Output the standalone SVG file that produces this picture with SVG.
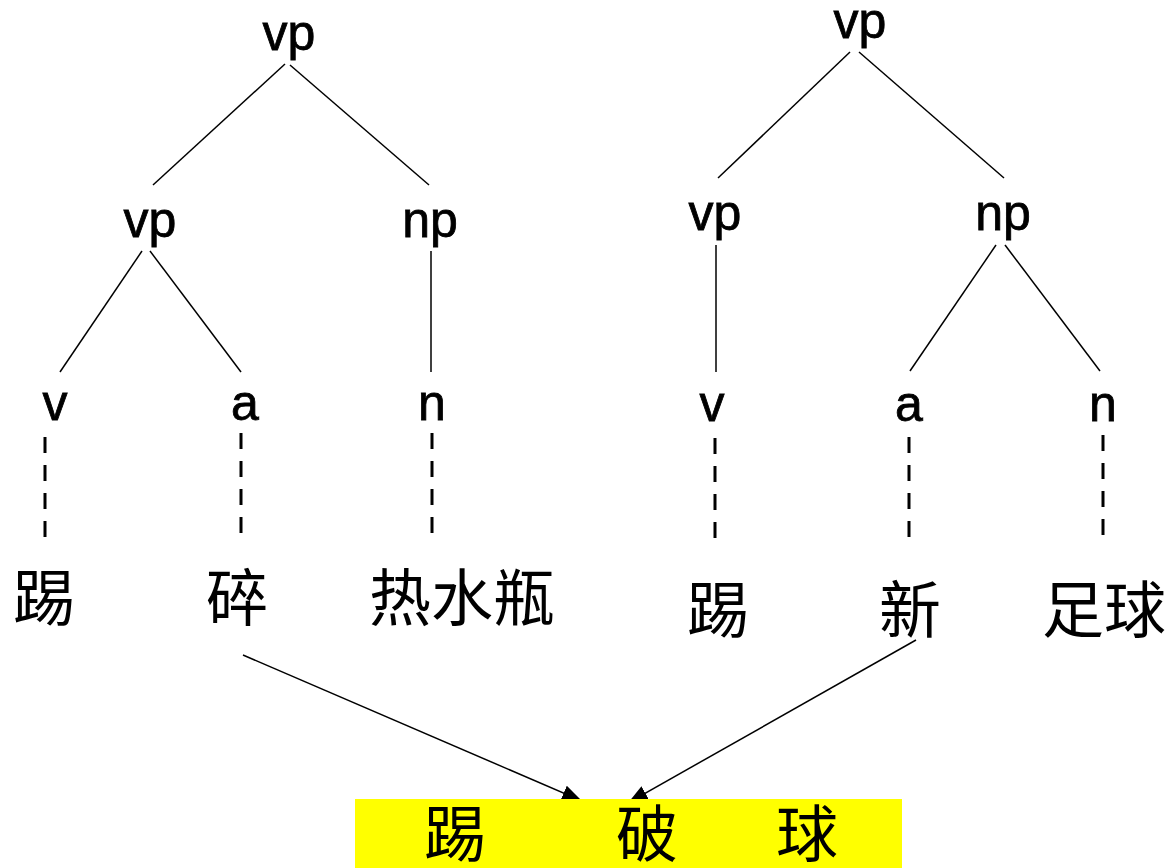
<svg xmlns="http://www.w3.org/2000/svg" width="1171" height="868" viewBox="0 0 1171 868">
<style>
.lbl{font-family:"Liberation Sans","DejaVu Sans",sans-serif;font-size:50px;fill:#000;stroke:#000;stroke-width:0.8;text-anchor:middle}
.cjk{font-family:"Noto Sans CJK SC","Noto Sans CJK TC",sans-serif;font-size:62px;fill:#000;text-anchor:middle}
.edge{stroke:#000;stroke-width:1.5;fill:none}
.dash{stroke:#000;stroke-width:3;stroke-dasharray:16 12;fill:none}
.arr{stroke:#000;stroke-width:1.5;fill:none;marker-end:url(#ah)}
</style>
<defs>
<marker id="ah" viewBox="0 0 10 10" refX="10" refY="5" markerWidth="20" markerHeight="16" markerUnits="userSpaceOnUse" orient="auto" preserveAspectRatio="none">
<path d="M0,0 L10,5 L0,10 z" fill="#000"/>
</marker>
<clipPath id="above"><rect x="0" y="0" width="1171" height="799"/></clipPath>
</defs>
<rect width="1171" height="868" fill="#fff"/>
<g id="connectors">
<line class="edge" x1="285" y1="64" x2="153" y2="185"/>
<line class="edge" x1="290" y1="65" x2="429" y2="185"/>
<line class="edge" x1="142" y1="251" x2="60" y2="372"/>
<line class="edge" x1="150" y1="251" x2="241" y2="372"/>
<line class="edge" x1="431" y1="251" x2="431" y2="372"/>
<line class="edge" x1="850" y1="52" x2="718" y2="178"/>
<line class="edge" x1="859" y1="52" x2="1004" y2="178"/>
<line class="edge" x1="716" y1="245" x2="716" y2="372"/>
<line class="edge" x1="996" y1="245" x2="910" y2="371"/>
<line class="edge" x1="1005" y1="245" x2="1100" y2="371"/>
<line class="dash" x1="45" y1="437" x2="45" y2="538"/>
<line class="dash" x1="241" y1="433" x2="241" y2="534"/>
<line class="dash" x1="432" y1="433" x2="432" y2="534"/>
<line class="dash" x1="715" y1="438" x2="715" y2="539"/>
<line class="dash" x1="909" y1="437" x2="909" y2="538"/>
<line class="dash" x1="1103" y1="435" x2="1103" y2="536"/>
<g clip-path="url(#above)">
<line class="arr" x1="243" y1="655" x2="582" y2="801"/>
<line class="arr" x1="916" y1="640" x2="628" y2="803"/>
</g>
</g>
<g id="l-vp-top"><text class="lbl" x="289" y="50">vp</text></g>
<g id="l-vp"><text class="lbl" x="150" y="237">vp</text></g>
<g id="l-np"><text class="lbl" x="430" y="237">np</text></g>
<g id="l-v"><text class="lbl" x="55" y="420">v</text></g>
<g id="l-a"><text class="lbl" x="245" y="420">a</text></g>
<g id="l-n"><text class="lbl" x="432" y="420">n</text></g>
<g id="r-vp-top"><text class="lbl" x="860" y="38">vp</text></g>
<g id="r-vp"><text class="lbl" x="715" y="230">vp</text></g>
<g id="r-np"><text class="lbl" x="1003" y="230">np</text></g>
<g id="r-v"><text class="lbl" x="712" y="421">v</text></g>
<g id="r-a"><text class="lbl" x="909" y="421">a</text></g>
<g id="r-n"><text class="lbl" x="1103" y="421">n</text></g>
<g id="w-ti1"><text class="cjk" x="44" y="621">踢</text></g>
<g id="w-sui"><text class="cjk" x="237" y="621">碎</text></g>
<g id="w-reshuiping"><text class="cjk" x="462" y="621">热水瓶</text></g>
<g id="w-ti2"><text class="cjk" x="718" y="633">踢</text></g>
<g id="w-xin"><text class="cjk" x="910" y="633">新</text></g>
<g id="w-zuqiu"><text class="cjk" x="1104" y="633">足球</text></g>
<g id="result">
<rect x="355" y="799" width="547" height="69" fill="#ffff00"/>
<text class="cjk" x="455" y="857">踢</text>
<text class="cjk" x="647" y="857">破</text>
<text class="cjk" x="807" y="857">球</text>
</g>
</svg>
